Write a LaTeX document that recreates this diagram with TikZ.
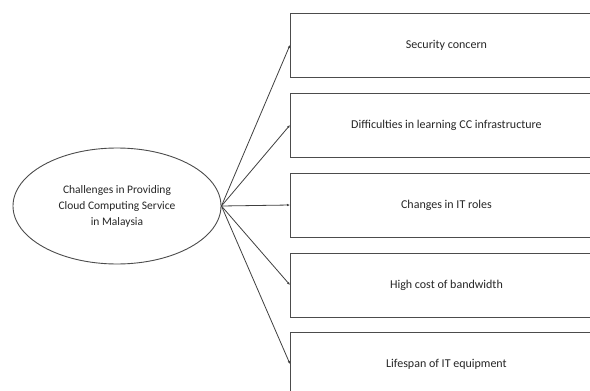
\documentclass[tikz,border=0pt]{standalone}
\usepackage{fontspec}
\setmainfont{Carlito}
\usetikzlibrary{shapes.geometric,arrows.meta}
\begin{document}
\begin{tikzpicture}[x=1pt,y=-1pt,
  every node/.style={font=\fontsize{12}{15.5}\selectfont, text=black!85},
  itembox/.style={draw=black!70, line width=0.9pt, minimum width=312pt, minimum height=64pt, inner sep=0pt, anchor=west},
  hub/.style={draw=black!70, line width=0.9pt, ellipse, minimum width=208pt, minimum height=116pt, inner sep=0pt, align=center, font=\fontsize{11.5}{16}\selectfont},
  conn/.style={draw=black!75, line width=0.8pt, -{Latex[length=3pt,width=2.5pt]}}]
\useasboundingbox (0,0) rectangle (590,391);
\clip (0,0) rectangle (590,391);
\fill[white] (0,0) rectangle (590,391);
\node[hub] (c) at (117,206) {Challenges in Providing\\Cloud Computing Service\\in Malaysia};
\node[itembox] (b1) at (290,45) {Security concern};
\node[itembox] (b2) at (290,125) {Difficulties in learning CC infrastructure};
\node[itembox] (b3) at (290,205) {Changes in IT roles};
\node[itembox] (b4) at (290,285) {High cost of bandwidth};
\node[itembox] (b5) at (290,364) {Lifespan of IT equipment};
\foreach \b in {b1,b2,b3,b4,b5}
  \draw[conn] (c.east) -- (\b.west);
\end{tikzpicture}
\end{document}
